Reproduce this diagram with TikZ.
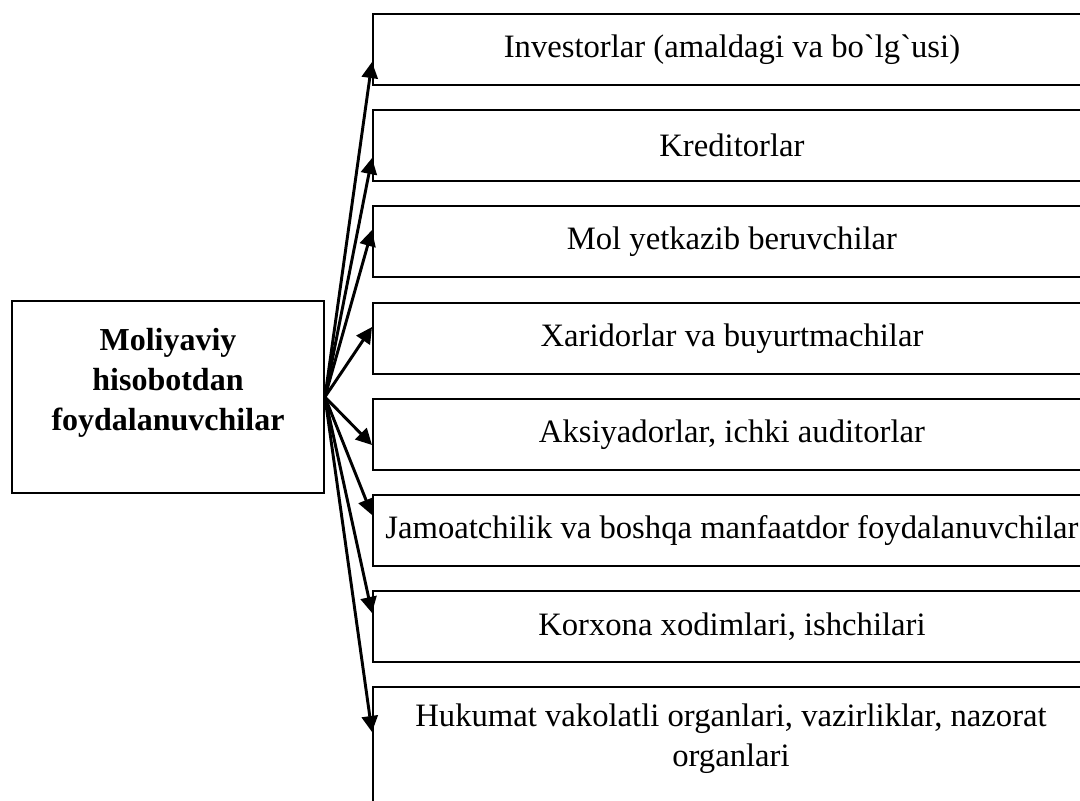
\documentclass[tikz,border=0pt]{standalone}
\usepackage{fontspec}
\setmainfont{Liberation Serif}
\usetikzlibrary{arrows.meta,calc}
\begin{document}
\begin{tikzpicture}[x=0.75pt,y=-0.75pt,
  frame/.style={draw, line width=1.4pt, rectangle, inner sep=0pt},
  item/.style={frame, minimum width=538.5pt, minimum height=53.6pt,
    anchor=north west, align=center, font=\fontsize{24.5}{30}\selectfont},
  link/.style={-{Triangle[length=12pt,width=12pt]}, line width=2.2pt}]
\useasboundingbox (0,0) rectangle (1080,800);
\clip (0,0) rectangle (1080,800);

% source box
\node[frame, minimum width=234pt, minimum height=144pt] (src) at (168,397) {};
\node[font=\bfseries\fontsize{24}{30}\selectfont, align=center] (srctext) at (168,383)
  {Moliyaviy\\hisobotdan\\foydalanuvchilar};

% user groups
\node[item] (b1) at (372,13)  {Investorlar (amaldagi va bo\textasciigrave lg\textasciigrave usi)};
\node[item] (b2) at (372,109) {Kreditorlar};
\node[item] (b3) at (372,205) {Mol yetkazib beruvchilar};
\node[item] (b4) at (372,302) {Xaridorlar va buyurtmachilar};
\node[item] (b5) at (372,398) {Aksiyadorlar, ichki auditorlar};
\node[item] (b6) at (372,494) {Jamoatchilik va boshqa manfaatdor foydalanuvchilar};
\node[item] (b7) at (372,590) {Korxona xodimlari, ishchilari};
\node[frame, minimum width=538.5pt, minimum height=110pt, anchor=north west] (b8) at (372,686) {};
\node[align=center, font=\fontsize{24.5}{30}\selectfont] (b8text) at (731,739)
  {Hukumat vakolatli organlari, vazirliklar, nazorat\\organlari};

% arrows
\draw[link] (src.east) -- ($(b1.north west)+(0,49)$);
\draw[link] (src.east) -- ($(b2.north west)+(0,49)$);
\draw[link] (src.east) -- ($(b3.north west)+(0,25)$);
\draw[link] (src.east) -- ($(b4.north west)+(0,25)$);
\draw[link] (src.east) -- ($(b5.north west)+(0,47)$);
\draw[link] (src.east) -- ($(b6.north west)+(0,21)$);
\draw[link] (src.east) -- ($(b7.north west)+(0,23)$);
\draw[link] (src.east) -- ($(b8.north west)+(0,46)$);
\end{tikzpicture}
\end{document}
